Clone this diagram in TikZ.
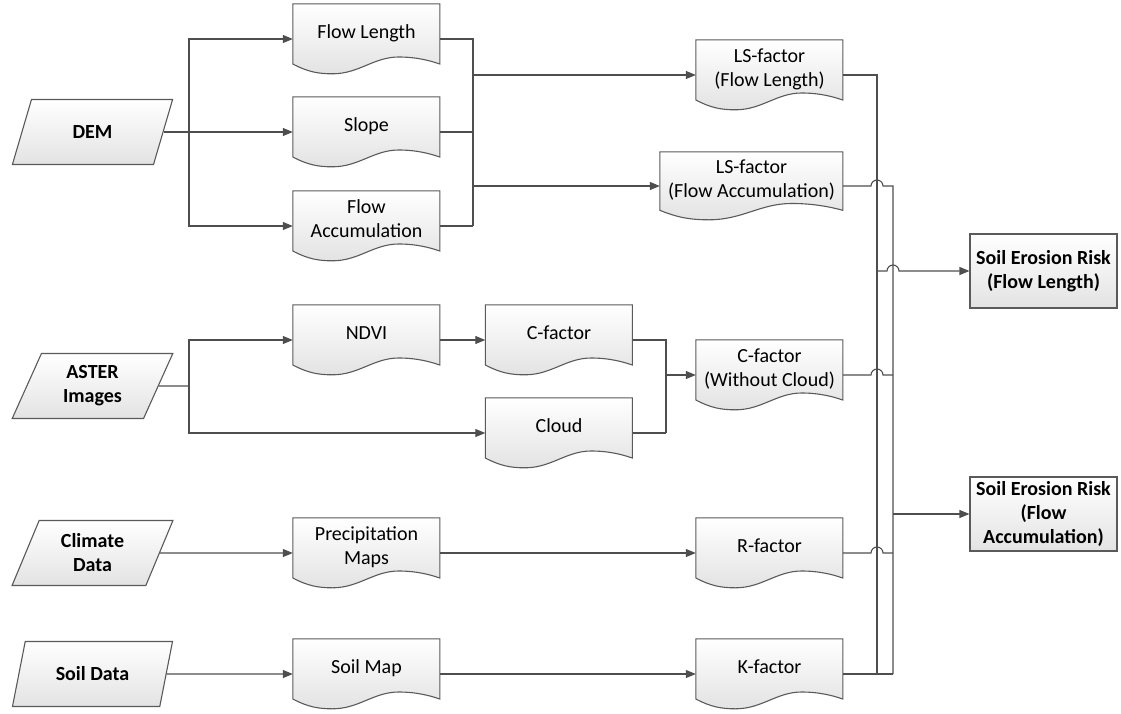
\documentclass[tikz,border=0pt]{standalone}
\usepackage{fontspec}
\setmainfont{Carlito}
\usetikzlibrary{positioning,calc,shapes.geometric,arrows.meta,backgrounds}

\definecolor{edgegray}{HTML}{5A5A5A}
\definecolor{linegray}{HTML}{4E4E4E}
\newcommand{\diagfont}{\fontsize{20}{24}\selectfont}

% wavy document outline behind a named node: #1 node, #2 width, #3 height
\newcommand{\docoutline}[3]{%
  \begin{scope}[shift={(#1.north west)}, x=#2, y=-#3]
    \shade[docshade] (0,0) -- (1,0) -- (1,0.86)
      .. controls (0.93,0.81) and (0.84,0.76) .. (0.72,0.76)
      .. controls (0.55,0.76) and (0.45,1) .. (0.27,1)
      .. controls (0.17,1) and (0.1,0.97) .. (0,0.86) -- cycle;
  \end{scope}}

\tikzset{
  docshade/.style={top color=white, bottom color=black!11, draw=edgegray, line width=1.1pt},
  docbox/.style={rectangle, inner sep=2pt, minimum width=147pt, minimum height=70pt,
    align=center, text depth=14pt, font=\diagfont},
  databox/.style={trapezium, trapezium left angle=68, trapezium right angle=112, trapezium stretches=true,
    minimum width=161pt, minimum height=65pt, inner sep=2pt, draw=edgegray, line width=1.1pt,
    top color=white, bottom color=black!11, align=center, font=\diagfont\bfseries},
  riskbox/.style={rectangle, minimum width=147pt, minimum height=74pt, inner sep=2pt, draw=edgegray, line width=1.1pt,
    top color=white, bottom color=black!11, align=center, font=\diagfont\bfseries},
  flow/.style={draw=linegray, line width=1.1pt},
  arrow/.style={flow, -{Triangle[length=10pt,width=8pt]}},
}

\begin{document}
\begin{tikzpicture}
    \useasboundingbox (-92.5pt,132pt) rectangle (1028.5pt,-581pt);

    % inputs
    \node[databox] (dem) at (0,0) {DEM} ;
    \node[databox, yshift=-254pt] (aster) at (dem) {ASTER\\Images} ;
    \node[databox, yshift=-421pt] (climate) at (dem) {Climate\\Data} ;
    \node[databox, yshift=-542pt] (soil_data) at (dem) {Soil Data} ;

    % intermediate layers
    \node[docbox, xshift=274pt] (slope) at (dem) {Slope} ;
    \node[docbox, yshift=93pt] (flow_length) at (slope) {Flow Length} ;
    \node[docbox, yshift=-94pt] (flow_acc) at (slope) {Flow\\Accumulation} ;
    \node[docbox, xshift=274pt, yshift=46pt] (ndvi) at (aster) {NDVI} ;
    \node[docbox, xshift=192.5pt] (c_factor) at (ndvi) {C-factor} ;
    \node[docbox, yshift=-93pt] (cloud) at (c_factor) {Cloud} ;
    \node[docbox, xshift=274pt] (precip) at (climate) {Precipitation\\Maps} ;
    \node[docbox, xshift=274pt] (soil_map) at (soil_data) {Soil Map} ;

    % factors
    \node[docbox, xshift=403pt, yshift=-36pt] (ls_length) at (flow_length) {LS-factor\\(Flow Length)} ;
    \node[docbox, minimum width=183pt, minimum height=68pt, xshift=385pt, yshift=-54pt] (ls_acc) at (slope) {LS-factor\\(Flow Accumulation)} ;
    \node[docbox, xshift=210.5pt, yshift=-35pt] (c_wo_cloud) at (c_factor) {C-factor\\(Without Cloud)} ;
    \node[docbox, xshift=403pt] (r_factor) at (precip) {R-factor} ;
    \node[docbox, xshift=403pt] (k_factor) at (soil_map) {K-factor} ;

    % results
    \node[riskbox, xshift=951pt, yshift=-139pt] (risk_length) at (dem) {Soil Erosion Risk\\(Flow Length)} ;
    \node[riskbox, xshift=951pt, yshift=-382pt] (risk_acc) at (dem) {Soil Erosion Risk\\(Flow\\Accumulation)} ;

    % document outlines behind the text
    \begin{pgfonlayer}{background}
        \foreach \doc in {slope, flow_length, flow_acc, ndvi, c_factor, cloud, precip, soil_map,
                          ls_length, c_wo_cloud, r_factor, k_factor}
            {\docoutline{\doc}{147pt}{70pt}}
        \docoutline{ls_acc}{183pt}{68pt}
    \end{pgfonlayer}

    % junction points
    \coordinate[xshift=96.5pt] (dem_split) at (dem) ;
    \coordinate[xshift=106.5pt] (dem_join) at (flow_acc) ;
    \coordinate[xshift=96.5pt] (aster_split) at (aster) ;
    \coordinate[xshift=107pt] (cloud_join) at (cloud) ;
    \coordinate[xshift=107.5pt] (bus_a) at (k_factor) ;
    \coordinate[xshift=123.5pt] (bus_b) at (k_factor) ;

    % DEM branch
    \draw[flow] (dem.east) -- (dem_split) ;
    \draw[arrow] (dem_split) |- (flow_length.west) ;
    \draw[arrow] (dem_split) -- (slope.west) ;
    \draw[arrow] (dem_split) |- (flow_acc.west) ;
    \draw[flow] (flow_length.east) -| (dem_join) ;
    \draw[flow] (slope.east) -- (slope.east -| dem_join) ;
    \draw[flow] (flow_acc.east) -- (dem_join) ;
    \draw[arrow] (ls_length.west -| dem_join) -- (ls_length.west) ;
    \draw[arrow] (ls_acc.west -| dem_join) -- (ls_acc.west) ;

    % ASTER branch
    \draw[flow] (aster.east) -- (aster_split) ;
    \draw[arrow] (aster_split) |- (ndvi.west) ;
    \draw[arrow] (aster_split) |- (cloud.west) ;
    \draw[arrow] (ndvi.east) -- (c_factor.west) ;
    \draw[flow] (c_factor.east) -| (cloud_join) ;
    \draw[flow] (cloud.east) -- (cloud_join) ;
    \draw[arrow] (c_wo_cloud.west -| cloud_join) -- (c_wo_cloud.west) ;

    % climate and soil
    \draw[arrow] (climate.east) -- (precip.west) ;
    \draw[arrow] (precip.east) -- (r_factor.west) ;
    \draw[arrow] (soil_data.east) -- (soil_map.west) ;
    \draw[arrow] (soil_map.east) -- (k_factor.west) ;

    % collecting lines
    \draw[flow] (ls_length.east) -| (bus_a) ;
    \draw[flow] (k_factor.east) -- (bus_b) ;
    \draw[flow] (ls_acc.east) -- ($(ls_acc.east -| bus_a)+(-6pt,0)$) arc[start angle=180, end angle=0, radius=6pt] -- (ls_acc.east -| bus_b) -- (bus_b) ;
    \draw[flow] (c_wo_cloud.east) -- ($(c_wo_cloud.east -| bus_a)+(-6pt,0)$) arc[start angle=180, end angle=0, radius=6pt] -- (c_wo_cloud.east -| bus_b) ;
    \draw[flow] (r_factor.east) -- ($(r_factor.east -| bus_a)+(-6pt,0)$) arc[start angle=180, end angle=0, radius=6pt] -- (r_factor.east -| bus_b) ;
    \draw[arrow] (risk_length.west -| bus_a) -- ($(risk_length.west -| bus_b)+(-6pt,0)$) arc[start angle=180, end angle=0, radius=6pt] -- (risk_length.west) ;
    \draw[arrow] (risk_acc.west -| bus_b) -- (risk_acc.west) ;

\end{tikzpicture}
\end{document}
